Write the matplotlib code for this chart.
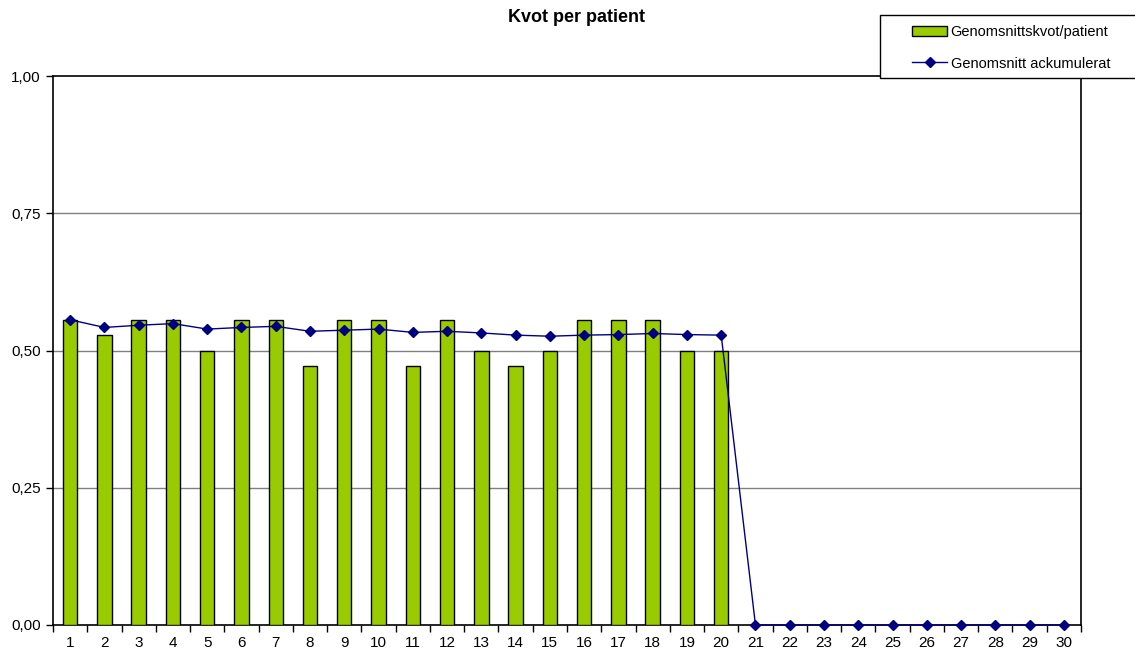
import matplotlib
matplotlib.use("Agg")
import matplotlib.pyplot as plt
from matplotlib.patches import Rectangle
from matplotlib.ticker import FixedLocator, FuncFormatter

plt.rcParams['font.family'] = ['Liberation Sans', 'DejaVu Sans']

patients = list(range(1, 31))
kvot = [0.556, 0.528, 0.556, 0.556, 0.500, 0.556, 0.556, 0.472, 0.556, 0.556,
        0.472, 0.556, 0.500, 0.472, 0.500, 0.556, 0.556, 0.556, 0.500, 0.500]
ackumulerat = [0.556, 0.542, 0.546, 0.549, 0.539, 0.542, 0.544, 0.535, 0.537, 0.539,
               0.533, 0.535, 0.532, 0.528, 0.526, 0.528, 0.529, 0.531, 0.529, 0.528,
               0.0, 0.0, 0.0, 0.0, 0.0, 0.0, 0.0, 0.0, 0.0, 0.0]
yticks = [0.0, 0.25, 0.5, 0.75, 1.0]

W, H = 1135, 653
fig = plt.figure(figsize=(W / 100, H / 100), dpi=100)
ax = fig.add_axes([53 / W, 28 / H, 1028 / W, 549 / H])

xb = list(range(len(kvot)))
xl = list(range(len(ackumulerat)))
bars = ax.bar(xb, kvot, width=0.42, color='#99CC00', edgecolor='black',
              linewidth=1.0, zorder=3, label='Genomsnittskvot/patient')
line, = ax.plot(xl, ackumulerat, color='#000080', marker='D', markersize=5.5,
                linewidth=1.0, zorder=4, clip_on=False, label='Genomsnitt ackumulerat')

ax.set_xlim(-0.5, len(patients) - 0.5)
ax.set_ylim(0, 1.0)
ax.set_yticks(yticks)
ax.yaxis.set_major_formatter(FuncFormatter(lambda v, p: f"{v:.2f}".replace('.', ',')))
for y in yticks[1:-1]:
    ax.axhline(y, color='#808080', linewidth=1.0, zorder=1)

ax.set_xticks(xl)
ax.set_xticklabels([str(p) for p in patients])
ax.xaxis.set_minor_locator(FixedLocator([i + 0.5 for i in range(-1, len(patients))]))
ax.tick_params(axis='x', which='major', length=0, pad=8, labelsize=11)
ax.tick_params(axis='x', which='minor', length=5, direction='out', width=1)
ax.tick_params(axis='y', which='major', length=5, direction='out', width=1, labelsize=11, pad=4)

for s in ax.spines.values():
    s.set_color('black')
    s.set_linewidth(1.2)
    s.set_zorder(2)

fig.text(576 / W, 1 - 18 / H, 'Kvot per patient', ha='center', va='center',
         fontsize=13, fontweight='bold')

# legend box, running off the right edge of the figure
fig.patches.append(Rectangle((880 / W, 1 - 78 / H), 270 / W, 63 / H,
                             transform=fig.transFigure, facecolor='white',
                             edgecolor='black', linewidth=1.0, zorder=5))
leg = fig.legend(handles=[bars, line], loc='upper left',
                 bbox_to_anchor=(912 / W, 1 - 25 / H),
                 frameon=False, fontsize=10.5,
                 borderpad=0, labelspacing=1.2, handlelength=2.4,
                 handletextpad=0.25, borderaxespad=0)
leg.set_zorder(6)

fig.savefig('out.png', dpi=100, facecolor='white')
